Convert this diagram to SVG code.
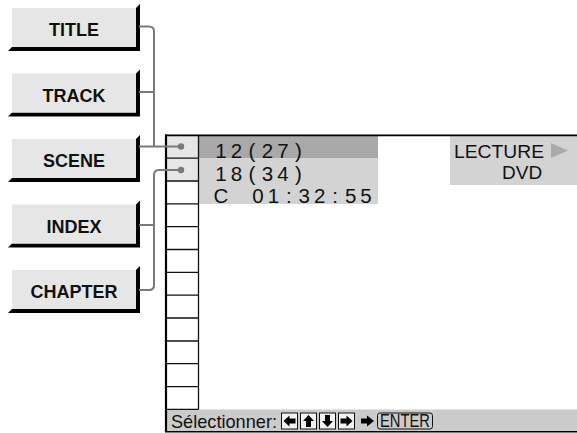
<svg xmlns="http://www.w3.org/2000/svg" width="577" height="433" viewBox="0 0 577 433">
<style>
.sh{fill:#000}
.face{fill:#e6e6e6}
.bt{font-family:"Liberation Sans",Arial,sans-serif;font-weight:bold;font-size:18px;fill:#111;text-anchor:middle}
.con{fill:none;stroke:#7a7a7a;stroke-width:2}
.dot{fill:#7a7a7a}
.scr{font-family:"Liberation Sans",Arial,sans-serif;font-size:20.5px;fill:#111;text-anchor:middle}
.lbl{font-family:"Liberation Sans",Arial,sans-serif;font-size:19px;fill:#111}
.grid{stroke:#111;stroke-width:1.3}
.key{fill:#f2f2f2;stroke:#111;stroke-width:1}
</style>
<defs>
<polygon id="shadow" points="136,3 140,-1 140,46 8,46 12,42 136,42"/>
</defs>
<rect width="577" height="433" fill="#fff"/>

<g id="btn-title" transform="translate(0,5)">
<use href="#shadow" class="sh"/><rect class="face" x="12" y="3" width="124" height="39"/>
<text class="bt" x="74" y="31">TITLE</text></g>
<g id="btn-track" transform="translate(0,70.5)">
<use href="#shadow" class="sh"/><rect class="face" x="12" y="3" width="124" height="39"/>
<text class="bt" x="74" y="31">TRACK</text></g>
<g id="btn-scene" transform="translate(0,136)">
<use href="#shadow" class="sh"/><rect class="face" x="12" y="3" width="124" height="39"/>
<text class="bt" x="74" y="31">SCENE</text></g>
<g id="btn-index" transform="translate(0,201.5)">
<use href="#shadow" class="sh"/><rect class="face" x="12" y="3" width="124" height="39"/>
<text class="bt" x="74" y="31">INDEX</text></g>
<g id="btn-chapter" transform="translate(0,267)">
<use href="#shadow" class="sh"/><rect class="face" x="12" y="3" width="124" height="39"/>
<text class="bt" x="74" y="31">CHAPTER</text></g>

<g id="screen">
<rect x="199" y="136" width="179" height="22" fill="#a9a9a9"/>
<rect x="199" y="158" width="179" height="46" fill="#d3d3d3"/>
<rect x="450" y="136" width="127" height="49" fill="#d3d3d3"/>
<rect x="167" y="136" width="31.5" height="45" fill="#e6e6e6"/>
<rect x="167" y="409.5" width="410" height="21.5" fill="#cbcbcb"/>
<g class="grid">
<line x1="166" y1="158.2" x2="198.5" y2="158.2"/>
<line x1="166" y1="181" x2="198.5" y2="181"/>
<line x1="166" y1="203.8" x2="198.5" y2="203.8"/>
<line x1="166" y1="226.7" x2="198.5" y2="226.7"/>
<line x1="166" y1="249.5" x2="198.5" y2="249.5"/>
<line x1="166" y1="272.3" x2="198.5" y2="272.3"/>
<line x1="166" y1="295.2" x2="198.5" y2="295.2"/>
<line x1="166" y1="318" x2="198.5" y2="318"/>
<line x1="166" y1="341" x2="198.5" y2="341"/>
<line x1="166" y1="363.7" x2="198.5" y2="363.7"/>
<line x1="166" y1="386.6" x2="198.5" y2="386.6"/>
<line x1="166" y1="409.4" x2="198.5" y2="409.4"/>
<line x1="198.5" y1="135" x2="198.5" y2="409.4"/>
</g>
<line x1="165" y1="135.3" x2="577" y2="135.3" stroke="#000" stroke-width="1.8"/>
<line x1="166" y1="134.5" x2="166" y2="432" stroke="#000" stroke-width="2.2"/>
<line x1="165" y1="431.7" x2="577" y2="431.7" stroke="#000" stroke-width="1.6"/>
<circle class="dot" cx="181" cy="146.5" r="3.2"/>
<circle class="dot" cx="181" cy="170" r="3.2"/>
<text class="scr" x="221 236.5 252 267.5 283 298.5" y="157.5">12(27)</text>
<text class="scr" x="221 236.5 252 267.5 283 298.5" y="181">18(34)</text>
<text class="scr" x="221 258 273.4 288.9 304.3 319.7 335.1 350.6 366" y="202.5">C01:32:55</text>
<text class="lbl" x="454" y="157.5" textLength="90" lengthAdjust="spacingAndGlyphs">LECTURE</text>
<polygon points="551,143 568,150.5 551,158" fill="#a9a9a9"/>
<text class="lbl" x="502" y="178.5">DVD</text>
<text class="lbl" x="171" y="427.5" font-size="18.5" textLength="106" lengthAdjust="spacingAndGlyphs">Sélectionner:</text>
<rect class="key" x="281.5" y="413" width="16" height="16"/>
<polygon points="283.5,421 289.5,415.5 289.5,418.5 295.5,418.5 295.5,423.5 289.5,423.5 289.5,426.5" fill="#000"/>
<rect class="key" x="300.5" y="413" width="16" height="16"/>
<polygon points="308.5,415 314,421 311,421 311,427 306,427 306,421 303,421" fill="#000"/>
<rect class="key" x="319.5" y="413" width="16" height="16"/>
<polygon points="327.5,427 333,421 330,421 330,415 325,415 325,421 322,421" fill="#000"/>
<rect class="key" x="338.5" y="413" width="16" height="16"/>
<polygon points="352.5,421 346.5,415.5 346.5,418.5 340.5,418.5 340.5,423.5 346.5,423.5 346.5,426.5" fill="#000"/>
<polygon points="374,421 367,415.5 367,418.5 361,418.5 361,423.5 367,423.5 367,426.5" fill="#000"/>
<rect x="377.5" y="413" width="55" height="16" rx="2.5" fill="none" stroke="#111" stroke-width="1"/>
<text class="lbl" x="405" y="427" font-size="17" text-anchor="middle" textLength="50" lengthAdjust="spacingAndGlyphs">ENTER</text>
</g>

<g id="connectors">
<path class="con" d="M139,26.5 H149 Q154,26.5 154,31.5 V146.5"/>
<path class="con" d="M139,92 H154"/>
<path class="con" d="M139,146.5 H181"/>
<path class="con" d="M181,170 H159 Q154,170 154,175 V285 Q154,290 149,290 H139"/>
<path class="con" d="M139,225 H154"/>
</g>
</svg>
